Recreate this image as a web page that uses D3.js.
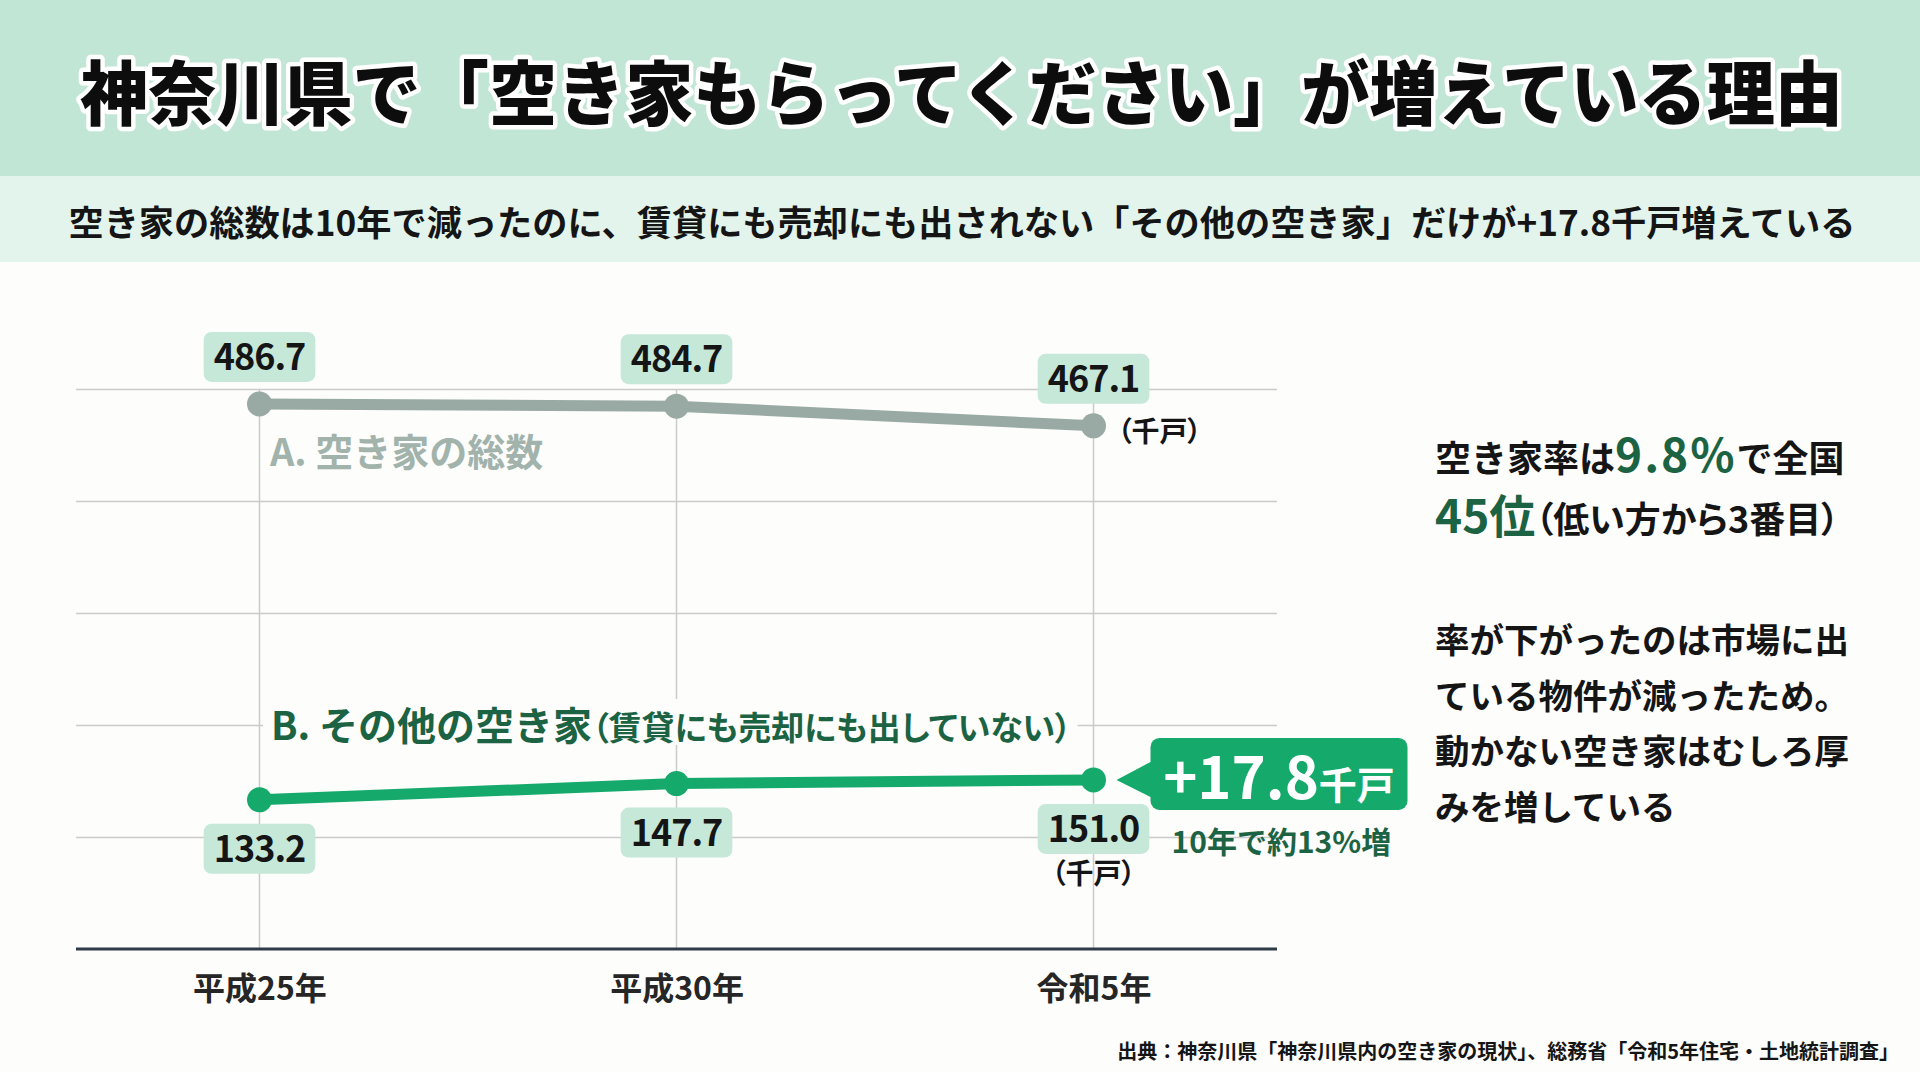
<!DOCTYPE html>
<html lang="ja">
<head>
<meta charset="utf-8">
<script src="https://cdn.jsdelivr.net/npm/d3@7"></script>
<style>
  body { margin: 0; background: #fdfdfc; }
  svg { display: block; font-family: "Noto Sans CJK JP", "Noto Sans", sans-serif; }
  .palt { font-feature-settings: "palt"; }
</style>
</head>
<body>
<div id="chart"></div>
<script>
// data (千戸)
const years = ["平成25年", "平成30年", "令和5年"];
const totalVacant = [486.7, 484.7, 467.1];
const otherVacant = [133.2, 147.7, 151.0];
const gridValues = [100, 200, 300, 400, 500];

const titleText = "神奈川県で「空き家もらってください」が増えている理由";
const subtitleText = "空き家の総数は10年で減ったのに、賃貸にも売却にも出されない「その他の空き家」だけが+17.8千戸増えている";
const sourceText = "出典：神奈川県「神奈川県内の空き家の現状」、総務省「令和5年住宅・土地統計調査」";

const W = 1920, H = 1072;
const plot = { left: 76, right: 1277, top: 389, bottom: 949 };

const colors = {
  header: "#c2e6d5",
  subheader: "#e3f4ec",
  lineA: "#98aaa3",
  labelA: "#a2b3ac",
  lineB: "#15aa6c",
  darkGreen: "#1c6343",
  box: "#c6e8d8",
  grid: "#cbcbcb",
  axis: "#2f3c46",
  text: "#151515"
};

const svg = d3.select("#chart")
  .append("svg")
  .attr("width", W)
  .attr("height", H);

// header bands
svg.append("rect").attr("width", W).attr("height", 176).attr("fill", colors.header);
svg.append("rect").attr("y", 176).attr("width", W).attr("height", 86).attr("fill", colors.subheader);

svg.append("text")
  .attr("x", 80)
  .attr("y", 120)
  .attr("textLength", 1763)
  .attr("lengthAdjust", "spacingAndGlyphs")
  .style("font-size", "70px")
  .style("font-weight", 900)
  .style("fill", "#0d0d0d")
  .style("stroke", "#ffffff")
  .style("stroke-width", 9)
  .style("stroke-linejoin", "round")
  .style("paint-order", "stroke")
  .text(titleText);

svg.append("text")
  .attr("x", 962)
  .attr("y", 236)
  .attr("text-anchor", "middle")
  .style("font-size", "35.2px")
  .style("font-weight", 700)
  .style("fill", colors.text)
  .text(subtitleText);

// scales
const x = d3.scalePoint()
  .domain(years)
  .range([plot.left, plot.right])
  .padding(0.44);

const y = d3.scaleLinear()
  .domain([0, 500])
  .range([plot.bottom, plot.top]);

// grid
const g = svg.append("g");

g.append("g")
  .attr("transform", `translate(${plot.left},0)`)
  .call(d3.axisLeft(y).tickValues(gridValues).tickSize(-(plot.right - plot.left)).tickFormat(""))
  .call((sel) => sel.select(".domain").remove())
  .selectAll("line")
  .attr("stroke", colors.grid)
  .attr("stroke-width", 1.5);

g.append("g")
  .selectAll("line")
  .data(years)
  .enter()
  .append("line")
  .attr("x1", (d) => x(d))
  .attr("x2", (d) => x(d))
  .attr("y1", y(500))
  .attr("y2", y(0))
  .attr("stroke", colors.grid)
  .attr("stroke-width", 1.5);

// x axis
const xAxis = g.append("g")
  .attr("transform", `translate(0,${plot.bottom})`)
  .call(d3.axisBottom(x).tickSize(0).tickPadding(28));

xAxis.select(".domain")
  .attr("stroke", colors.axis)
  .attr("stroke-width", 3)
  .attr("d", `M${plot.left},0H${plot.right}`);

xAxis.selectAll("text")
  .style("font-family", "'Noto Sans CJK JP', sans-serif")
  .style("font-size", "32px")
  .style("font-weight", 700)
  .style("fill", "#262626");

// series label B with white backing (drawn before lines)
const labelB = g.append("g");
const labelBText = labelB.append("text")
  .attr("x", 271)
  .attr("y", 740)
  .style("fill", colors.darkGreen)
  .style("font-weight", 700);
labelBText.append("tspan").style("font-size", "39px").text("B. その他の空き家");
labelBText.append("tspan").attr("class", "palt").style("font-size", "33px").text("（賃貸にも売却にも出していない）");
const bb = labelBText.node().getBBox();
labelB.insert("rect", "text")
  .attr("x", bb.x - 8)
  .attr("y", bb.y + 4)
  .attr("width", bb.width + 14)
  .attr("height", bb.height - 10)
  .attr("fill", "#fdfdfc");

// series label A
g.append("text")
  .attr("x", 270)
  .attr("y", 466)
  .style("font-size", "38px")
  .style("font-weight", 700)
  .style("fill", colors.labelA)
  .text("A. 空き家の総数");

// lines
const line = d3.line()
  .x((d, i) => x(years[i]))
  .y((d) => y(d));

const series = [
  { values: totalVacant, color: colors.lineA, above: true },
  { values: otherVacant, color: colors.lineB, above: false }
];

series.forEach((s) => {
  g.append("path")
    .datum(s.values)
    .attr("d", line)
    .attr("fill", "none")
    .attr("stroke", s.color)
    .attr("stroke-width", 11);

  g.append("g")
    .selectAll("circle")
    .data(s.values)
    .enter()
    .append("circle")
    .attr("cx", (d, i) => x(years[i]))
    .attr("cy", (d) => y(d))
    .attr("r", 12.5)
    .attr("fill", s.color);

  // value boxes
  const boxH = 50;
  const boxes = g.append("g")
    .selectAll("g")
    .data(s.values)
    .enter()
    .append("g")
    .attr("transform", (d, i) => {
      const top = s.above ? y(d) - 22 - boxH : y(d) + 24;
      return `translate(${x(years[i])},${top})`;
    });

  boxes.append("rect").attr("fill", colors.box).attr("rx", 8);

  boxes.append("text")
    .attr("text-anchor", "middle")
    .attr("y", 38)
    .style("font-size", "36px")
    .style("font-weight", 700)
    .style("letter-spacing", "-1px")
    .style("fill", colors.text)
    .text((d) => d.toFixed(1));

  boxes.each(function () {
    const gg = d3.select(this);
    const w = gg.select("text").node().getComputedTextLength() + 20;
    gg.select("rect").attr("x", -w / 2).attr("width", w).attr("height", boxH);
  });
});

// unit labels
const lastX = x(years[2]);
g.append("text")
  .attr("x", lastX + 24)
  .attr("y", y(totalVacant[2]) + 16)
  .attr("class", "palt")
  .style("font-size", "28px")
  .style("font-weight", 700)
  .style("fill", colors.text)
  .text("（千戸）");

g.append("text")
  .attr("x", lastX)
  .attr("y", y(otherVacant[2]) + 104)
  .attr("text-anchor", "middle")
  .attr("class", "palt")
  .style("font-size", "28px")
  .style("font-weight", 700)
  .style("fill", colors.text)
  .text("（千戸）");

// callout for the increase
const py = y(otherVacant[2]);
const diff = otherVacant[2] - otherVacant[0];
const call = g.append("g");
const bx0 = lastX + 57, bx1 = lastX + 314, by0 = py - 42, by1 = py + 30;
call.append("rect")
  .attr("x", bx0)
  .attr("y", by0)
  .attr("width", bx1 - bx0)
  .attr("height", by1 - by0)
  .attr("rx", 9)
  .attr("fill", colors.lineB);
call.append("path")
  .attr("d", `M${lastX + 23},${py}L${bx0 + 2},${py - 19}L${bx0 + 2},${py + 18}Z`)
  .attr("fill", colors.lineB);

const callText = call.append("text")
  .attr("x", (bx0 + bx1) / 2)
  .attr("y", py + 19)
  .attr("text-anchor", "middle")
  .style("fill", "#ffffff")
  .style("font-weight", 700);
callText.append("tspan").style("font-size", "58px").text(`+${diff.toFixed(1)}`);
callText.append("tspan").style("font-size", "38px").text("千戸");

g.append("text")
  .attr("x", bx0 + 21)
  .attr("y", py + 73)
  .style("font-size", "30px")
  .style("font-weight", 700)
  .style("fill", colors.darkGreen)
  .text("10年で約13%増");

// right-hand notes
const notes = svg.append("g").attr("transform", "translate(1435,0)");
const n1 = notes.append("text").attr("y", 472).style("font-weight", 700).style("fill", colors.text);
n1.append("tspan").style("font-size", "36px").text("空き家率は");
n1.append("tspan").style("font-size", "46px").style("fill", colors.darkGreen).style("letter-spacing", "2px").text("9.8%");
n1.append("tspan").style("font-size", "36px").text("で全国");

const n2 = notes.append("text").attr("y", 533).style("font-weight", 700).style("fill", colors.text);
n2.append("tspan").style("font-size", "46px").style("fill", colors.darkGreen).text("45位");
n2.append("tspan").attr("class", "palt").style("font-size", "36px").text("（低い方から3番目）");

const paragraph = [
  "率が下がったのは市場に出",
  "ている物件が減ったため。",
  "動かない空き家はむしろ厚",
  "みを増している"
];
notes.append("g")
  .selectAll("text")
  .data(paragraph)
  .enter()
  .append("text")
  .attr("y", (d, i) => 653 + i * 55.5)
  .style("font-size", "34.5px")
  .style("font-weight", 700)
  .style("fill", colors.text)
  .text((d) => d);

// source
svg.append("text")
  .attr("x", 1899)
  .attr("y", 1059)
  .attr("text-anchor", "end")
  .style("font-size", "20px")
  .style("font-weight", 700)
  .style("fill", colors.text)
  .text(sourceText);
</script>
</body>
</html>
